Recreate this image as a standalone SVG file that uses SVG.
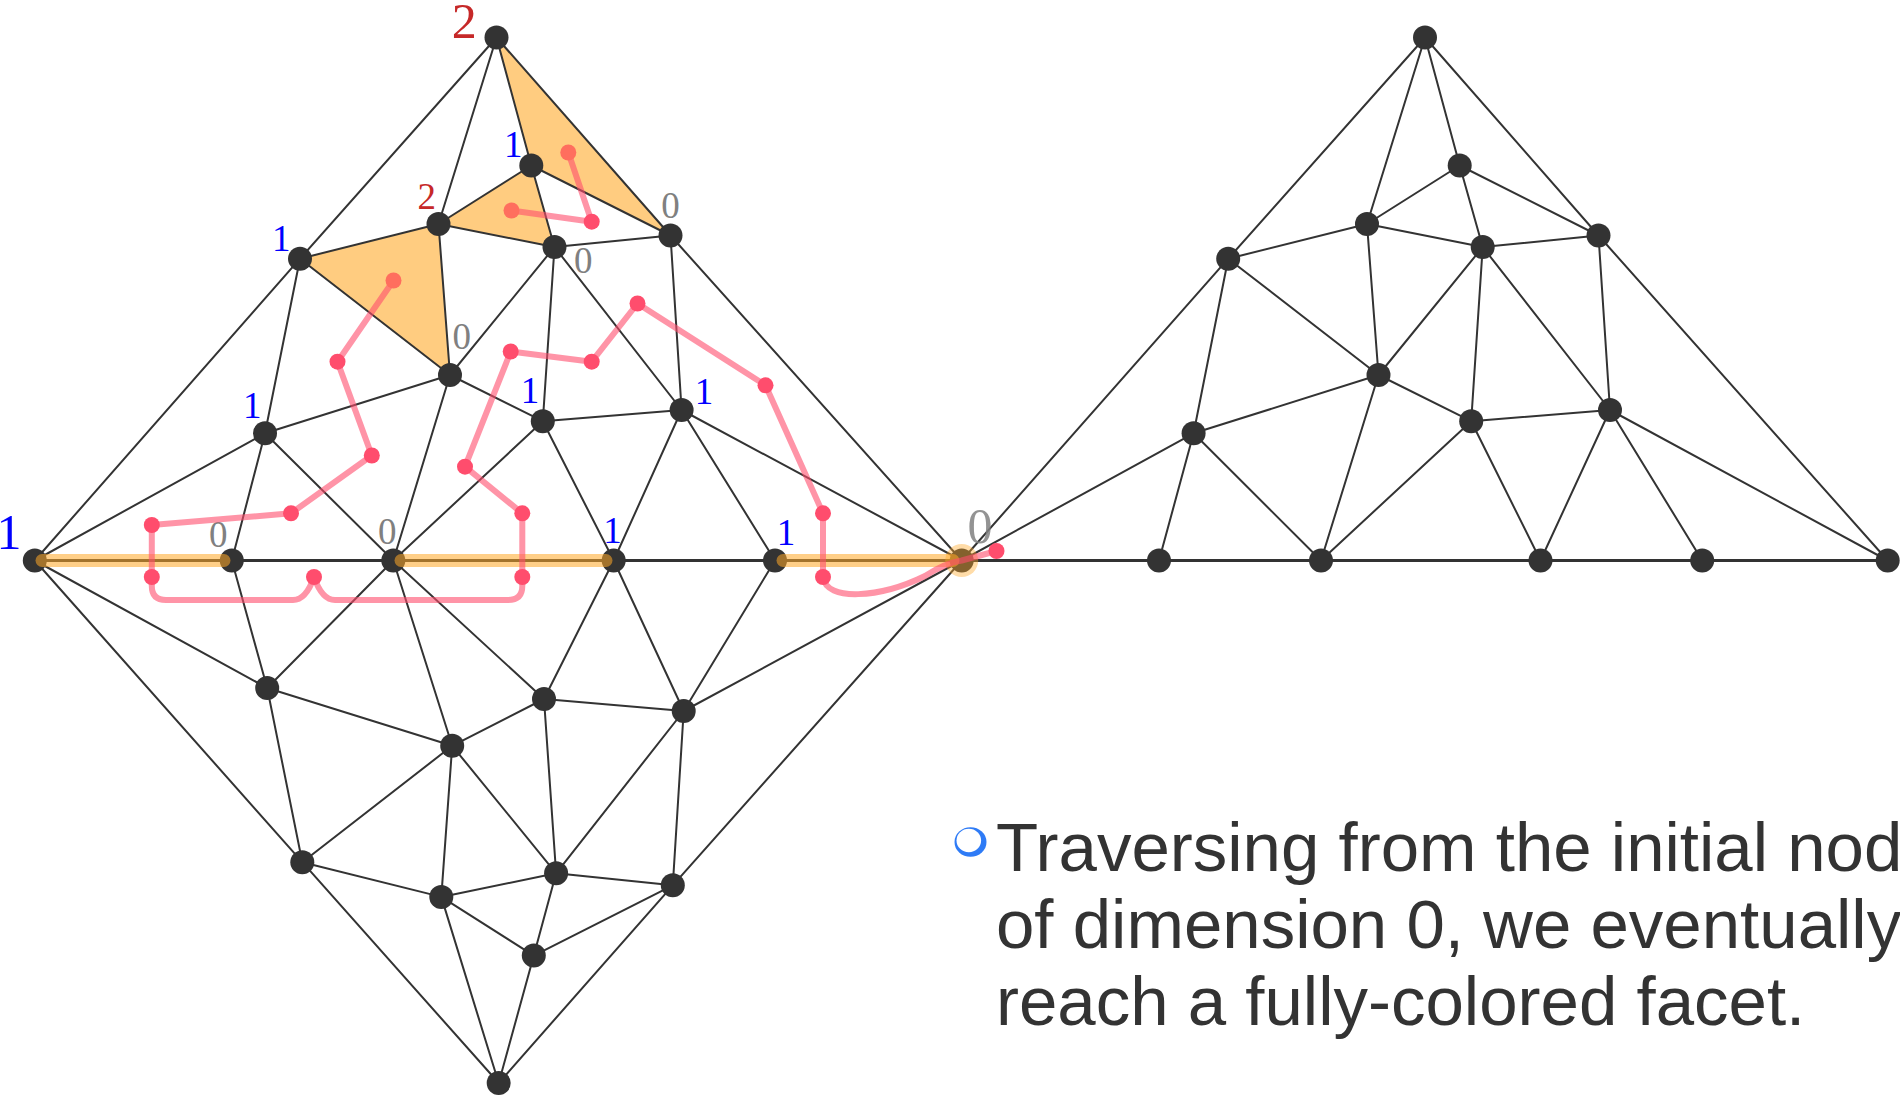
<svg xmlns="http://www.w3.org/2000/svg" width="1900" height="1097" viewBox="0 0 1900 1097">
<style>
.e{stroke:#333;stroke-width:2;fill:none;stroke-linecap:round}
.base{stroke:#333;stroke-width:2.8;fill:none}
.n{fill:#333}
.tri{fill:#FFCC80;stroke:none}
.band{stroke:#FFA726;stroke-opacity:0.55;stroke-width:13;stroke-linecap:round;fill:none}
.pk{stroke:#FF4D6D;stroke-opacity:0.6;stroke-width:6;fill:none;stroke-linejoin:round;stroke-linecap:round}
.pd{fill:#FF4D6D}
.ps{fill:#FF6E5E}
.lb{font-family:"Liberation Serif","Times New Roman",serif;text-anchor:middle;font-size:37px}
.big{font-size:50px}
.b{fill:#0000FF}
.r{fill:#C62828}
.g{fill:#808080}
.txt{font-family:"Liberation Sans",Arial,sans-serif;font-size:69px;fill:#333}
</style>
<rect width="1900" height="1097" fill="#fff"/>
<g id="facets">
<polygon class="tri" points="496.5,37.5 531.3,165.5 670.5,235.5"/>
<polygon class="tri" points="438.5,224 531.3,165.5 554.5,247"/>
<polygon class="tri" points="300,258.7 438.5,224 450,375"/>
</g>
<g id="connectors">
<line class="e" x1="496.5" y1="37.5" x2="300" y2="258.7"/>
<line class="e" x1="300" y1="258.7" x2="34.8" y2="560.5"/>
<line class="e" x1="496.5" y1="37.5" x2="670.5" y2="235.5"/>
<line class="e" x1="670.5" y1="235.5" x2="961.7" y2="560.5"/>
<line class="e" x1="496.5" y1="37.5" x2="438.5" y2="224"/>
<line class="e" x1="496.5" y1="37.5" x2="531.3" y2="165.5"/>
<line class="e" x1="531.3" y1="165.5" x2="438.5" y2="224"/>
<line class="e" x1="531.3" y1="165.5" x2="554.5" y2="247"/>
<line class="e" x1="531.3" y1="165.5" x2="670.5" y2="235.5"/>
<line class="e" x1="438.5" y1="224" x2="300" y2="258.7"/>
<line class="e" x1="438.5" y1="224" x2="554.5" y2="247"/>
<line class="e" x1="438.5" y1="224" x2="450" y2="375"/>
<line class="e" x1="554.5" y1="247" x2="670.5" y2="235.5"/>
<line class="e" x1="554.5" y1="247" x2="450" y2="375"/>
<line class="e" x1="554.5" y1="247" x2="542.8" y2="421.2"/>
<line class="e" x1="554.5" y1="247" x2="681.6" y2="410"/>
<line class="e" x1="670.5" y1="235.5" x2="681.6" y2="410"/>
<line class="e" x1="300" y1="258.7" x2="450" y2="375"/>
<line class="e" x1="300" y1="258.7" x2="265" y2="433.3"/>
<line class="e" x1="450" y1="375" x2="265" y2="433.3"/>
<line class="e" x1="450" y1="375" x2="542.8" y2="421.2"/>
<line class="e" x1="450" y1="375" x2="393.3" y2="560.5"/>
<line class="e" x1="265" y1="433.3" x2="34.8" y2="560.5"/>
<line class="e" x1="265" y1="433.3" x2="231.8" y2="560.5"/>
<line class="e" x1="265" y1="433.3" x2="393.3" y2="560.5"/>
<line class="e" x1="542.8" y1="421.2" x2="681.6" y2="410"/>
<line class="e" x1="542.8" y1="421.2" x2="393.3" y2="560.5"/>
<line class="e" x1="542.8" y1="421.2" x2="613.7" y2="560.5"/>
<line class="e" x1="681.6" y1="410" x2="613.7" y2="560.5"/>
<line class="e" x1="681.6" y1="410" x2="775" y2="560.5"/>
<line class="e" x1="681.6" y1="410" x2="961.7" y2="560.5"/>
<line class="e" x1="34.8" y1="560.5" x2="267.2" y2="688"/>
<line class="e" x1="34.8" y1="560.5" x2="302.3" y2="862.2"/>
<line class="e" x1="302.3" y1="862.2" x2="498.7" y2="1083"/>
<line class="e" x1="961.7" y1="560.5" x2="672.8" y2="885.3"/>
<line class="e" x1="672.8" y1="885.3" x2="498.7" y2="1083"/>
<line class="e" x1="231.8" y1="560.5" x2="267.2" y2="688"/>
<line class="e" x1="393.3" y1="560.5" x2="267.2" y2="688"/>
<line class="e" x1="393.3" y1="560.5" x2="452.2" y2="745.8"/>
<line class="e" x1="393.3" y1="560.5" x2="544" y2="699"/>
<line class="e" x1="613.7" y1="560.5" x2="544" y2="699"/>
<line class="e" x1="613.7" y1="560.5" x2="683.7" y2="711"/>
<line class="e" x1="775" y1="560.5" x2="683.7" y2="711"/>
<line class="e" x1="961.7" y1="560.5" x2="683.7" y2="711"/>
<line class="e" x1="267.2" y1="688" x2="452.2" y2="745.8"/>
<line class="e" x1="267.2" y1="688" x2="302.3" y2="862.2"/>
<line class="e" x1="544" y1="699" x2="452.2" y2="745.8"/>
<line class="e" x1="544" y1="699" x2="683.7" y2="711"/>
<line class="e" x1="544" y1="699" x2="556.1" y2="873.3"/>
<line class="e" x1="452.2" y1="745.8" x2="302.3" y2="862.2"/>
<line class="e" x1="452.2" y1="745.8" x2="441.3" y2="896.9"/>
<line class="e" x1="452.2" y1="745.8" x2="556.1" y2="873.3"/>
<line class="e" x1="683.7" y1="711" x2="556.1" y2="873.3"/>
<line class="e" x1="683.7" y1="711" x2="672.8" y2="885.3"/>
<line class="e" x1="302.3" y1="862.2" x2="441.3" y2="896.9"/>
<line class="e" x1="556.1" y1="873.3" x2="441.3" y2="896.9"/>
<line class="e" x1="556.1" y1="873.3" x2="672.8" y2="885.3"/>
<line class="e" x1="556.1" y1="873.3" x2="533.8" y2="955.6"/>
<line class="e" x1="441.3" y1="896.9" x2="533.8" y2="955.6"/>
<line class="e" x1="672.8" y1="885.3" x2="533.8" y2="955.6"/>
<line class="e" x1="441.3" y1="896.9" x2="498.7" y2="1083"/>
<line class="e" x1="533.8" y1="955.6" x2="498.7" y2="1083"/>
<line class="e" x1="1425" y1="37.5" x2="1228.2" y2="258.7"/>
<line class="e" x1="1228.2" y1="258.7" x2="961.7" y2="560.5"/>
<line class="e" x1="1425" y1="37.5" x2="1598.5" y2="235.5"/>
<line class="e" x1="1598.5" y1="235.5" x2="1887.7" y2="560.5"/>
<line class="e" x1="1425" y1="37.5" x2="1367" y2="224"/>
<line class="e" x1="1425" y1="37.5" x2="1459.7" y2="165.5"/>
<line class="e" x1="1459.7" y1="165.5" x2="1367" y2="224"/>
<line class="e" x1="1459.7" y1="165.5" x2="1482.7" y2="247"/>
<line class="e" x1="1459.7" y1="165.5" x2="1598.5" y2="235.5"/>
<line class="e" x1="1367" y1="224" x2="1228.2" y2="258.7"/>
<line class="e" x1="1367" y1="224" x2="1482.7" y2="247"/>
<line class="e" x1="1367" y1="224" x2="1378.5" y2="375"/>
<line class="e" x1="1482.7" y1="247" x2="1598.5" y2="235.5"/>
<line class="e" x1="1482.7" y1="247" x2="1378.5" y2="375"/>
<line class="e" x1="1482.7" y1="247" x2="1471.2" y2="421.2"/>
<line class="e" x1="1482.7" y1="247" x2="1610" y2="410"/>
<line class="e" x1="1598.5" y1="235.5" x2="1610" y2="410"/>
<line class="e" x1="1228.2" y1="258.7" x2="1378.5" y2="375"/>
<line class="e" x1="1228.2" y1="258.7" x2="1193.6" y2="433.3"/>
<line class="e" x1="1378.5" y1="375" x2="1193.6" y2="433.3"/>
<line class="e" x1="1378.5" y1="375" x2="1471.2" y2="421.2"/>
<line class="e" x1="1378.5" y1="375" x2="1321" y2="560.5"/>
<line class="e" x1="1193.6" y1="433.3" x2="961.7" y2="560.5"/>
<line class="e" x1="1193.6" y1="433.3" x2="1159" y2="560.5"/>
<line class="e" x1="1193.6" y1="433.3" x2="1321" y2="560.5"/>
<line class="e" x1="1471.2" y1="421.2" x2="1610" y2="410"/>
<line class="e" x1="1471.2" y1="421.2" x2="1321" y2="560.5"/>
<line class="e" x1="1471.2" y1="421.2" x2="1540.5" y2="560.5"/>
<line class="e" x1="1610" y1="410" x2="1540.5" y2="560.5"/>
<line class="e" x1="1610" y1="410" x2="1702.2" y2="560.5"/>
<line class="e" x1="1610" y1="410" x2="1887.7" y2="560.5"/>
<line class="base" x1="34.8" y1="560.5" x2="1887.7" y2="560.5"/>
</g>
<g id="n-T"><circle class="n" cx="496.5" cy="37.5" r="12"/><text class="lb big r" x="464.3" y="38">2</text></g>
<g id="n-A"><circle class="n" cx="531.3" cy="165.5" r="12"/><text class="lb b" x="513.3" y="156.7">1</text></g>
<g id="n-B"><circle class="n" cx="438.5" cy="224" r="12"/><text class="lb r" x="426.7" y="209.3">2</text></g>
<g id="n-C"><circle class="n" cx="554.5" cy="247" r="12"/><text class="lb g" x="583.3" y="273.3">0</text></g>
<g id="n-D"><circle class="n" cx="670.5" cy="235.5" r="12"/><text class="lb g" x="670.5" y="218">0</text></g>
<g id="n-E"><circle class="n" cx="300" cy="258.7" r="12"/><text class="lb b" x="281.3" y="250.7">1</text></g>
<g id="n-F"><circle class="n" cx="450" cy="375" r="12"/><text class="lb g" x="461.7" y="349.3">0</text></g>
<g id="n-G"><circle class="n" cx="265" cy="433.3" r="12"/><text class="lb b" x="252.2" y="418">1</text></g>
<g id="n-H"><circle class="n" cx="542.8" cy="421.2" r="12"/><text class="lb b" x="530" y="403.3">1</text></g>
<g id="n-I"><circle class="n" cx="681.6" cy="410" r="12"/><text class="lb b" x="704" y="404">1</text></g>
<g id="n-L0"><circle class="n" cx="34.8" cy="560.5" r="12"/><text class="lb big b" x="9" y="549.3">1</text></g>
<g id="n-L1"><circle class="n" cx="231.8" cy="560.5" r="12"/><text class="lb g" x="218.3" y="547.3">0</text></g>
<g id="n-L2"><circle class="n" cx="393.3" cy="560.5" r="12"/><text class="lb g" x="387.3" y="544">0</text></g>
<g id="n-L3"><circle class="n" cx="613.7" cy="560.5" r="12"/><text class="lb b" x="612.5" y="543.4">1</text></g>
<g id="n-L4"><circle class="n" cx="775" cy="560.5" r="12"/><text class="lb b" x="786" y="545">1</text></g>
<g id="n-L5"><circle class="n" cx="961.7" cy="560.5" r="12"/><text class="lb big g" x="980" y="542.7" fill-opacity="0.85">0</text></g>
<g id="n-J"><circle class="n" cx="267.2" cy="688" r="12"/></g>
<g id="n-K"><circle class="n" cx="544" cy="699" r="12"/></g>
<g id="n-M"><circle class="n" cx="683.7" cy="711" r="12"/></g>
<g id="n-N"><circle class="n" cx="452.2" cy="745.8" r="12"/></g>
<g id="n-O"><circle class="n" cx="302.3" cy="862.2" r="12"/></g>
<g id="n-P"><circle class="n" cx="556.1" cy="873.3" r="12"/></g>
<g id="n-Q"><circle class="n" cx="672.8" cy="885.3" r="12"/></g>
<g id="n-R"><circle class="n" cx="441.3" cy="896.9" r="12"/></g>
<g id="n-S"><circle class="n" cx="533.8" cy="955.6" r="12"/></g>
<g id="n-Bot"><circle class="n" cx="498.7" cy="1083" r="12"/></g>
<g id="n-t"><circle class="n" cx="1425" cy="37.5" r="12"/></g>
<g id="n-a"><circle class="n" cx="1459.7" cy="165.5" r="12"/></g>
<g id="n-b"><circle class="n" cx="1367" cy="224" r="12"/></g>
<g id="n-c"><circle class="n" cx="1482.7" cy="247" r="12"/></g>
<g id="n-d"><circle class="n" cx="1598.5" cy="235.5" r="12"/></g>
<g id="n-e"><circle class="n" cx="1228.2" cy="258.7" r="12"/></g>
<g id="n-f"><circle class="n" cx="1378.5" cy="375" r="12"/></g>
<g id="n-g"><circle class="n" cx="1193.6" cy="433.3" r="12"/></g>
<g id="n-h"><circle class="n" cx="1471.2" cy="421.2" r="12"/></g>
<g id="n-i"><circle class="n" cx="1610" cy="410" r="12"/></g>
<g id="n-r1"><circle class="n" cx="1159" cy="560.5" r="12"/></g>
<g id="n-r2"><circle class="n" cx="1321" cy="560.5" r="12"/></g>
<g id="n-r3"><circle class="n" cx="1540.5" cy="560.5" r="12"/></g>
<g id="n-r4"><circle class="n" cx="1702.2" cy="560.5" r="12"/></g>
<g id="n-r5"><circle class="n" cx="1887.7" cy="560.5" r="12"/></g>
<g id="highlight">
<line class="band" x1="42" y1="560.5" x2="224" y2="560.5"/>
<line class="band" x1="401" y1="560.5" x2="606" y2="560.5"/>
<line class="band" x1="783" y1="560.5" x2="953" y2="560.5"/>
<circle cx="961.7" cy="560.5" r="16.5" fill="#FFA726" fill-opacity="0.4"/>
</g>
<g id="path">
<path class="pk" d="M393.5,280.5 L337.5,361.7 L371.8,455.5 L291,513.3 L151.8,525 L151.8,586 Q151.8,600 166,600 L293,600 Q306,600 314,577 Q322,600 335,600 L508,600 Q522.3,600 522.3,586 L522.3,513.3 L465,466.7 L510.7,351.5 L591.7,361.7 L637.5,303.5 L765.5,385.3 L823,513.3 L823,577 C826,602 880,598 925,576 Q945,563 961.7,560.5 L996.5,551"/>
<path class="pk" d="M568.3,152.5 L591.7,221.7 L511.5,210.5"/>
<circle class="ps" cx="393.5" cy="280.5" r="8"/>
<circle class="pd" cx="337.5" cy="361.7" r="8"/>
<circle class="pd" cx="371.8" cy="455.5" r="8"/>
<circle class="pd" cx="291" cy="513.3" r="8"/>
<circle class="pd" cx="151.8" cy="525" r="8"/>
<circle class="pd" cx="151.8" cy="577" r="8"/>
<circle class="pd" cx="314" cy="577" r="8"/>
<circle class="pd" cx="522.3" cy="577" r="8"/>
<circle class="pd" cx="522.3" cy="513.3" r="8"/>
<circle class="pd" cx="465" cy="466.7" r="8"/>
<circle class="pd" cx="510.7" cy="351.5" r="8"/>
<circle class="pd" cx="591.7" cy="361.7" r="8"/>
<circle class="pd" cx="637.5" cy="303.5" r="8"/>
<circle class="pd" cx="765.5" cy="385.3" r="8"/>
<circle class="pd" cx="823" cy="513.3" r="8"/>
<circle class="pd" cx="823" cy="577" r="8"/>
<circle class="pd" cx="996.5" cy="551" r="8"/>
<circle class="ps" cx="568.3" cy="152.5" r="8"/>
<circle class="pd" cx="591.7" cy="221.7" r="8"/>
<circle class="ps" cx="511.5" cy="210.5" r="8"/>
</g>
<g id="caption">
<ellipse cx="970.5" cy="842" rx="16" ry="14.8" fill="#2E7BF6"/>
<ellipse cx="968.8" cy="840.5" rx="12.3" ry="11.8" fill="#fff"/>
<text class="txt" x="996" y="871">Traversing from the initial nod</text>
<text class="txt" x="996" y="948">of dimension 0, we eventually</text>
<text class="txt" x="996" y="1025">reach a fully-colored facet.</text>
</g>
</svg>
